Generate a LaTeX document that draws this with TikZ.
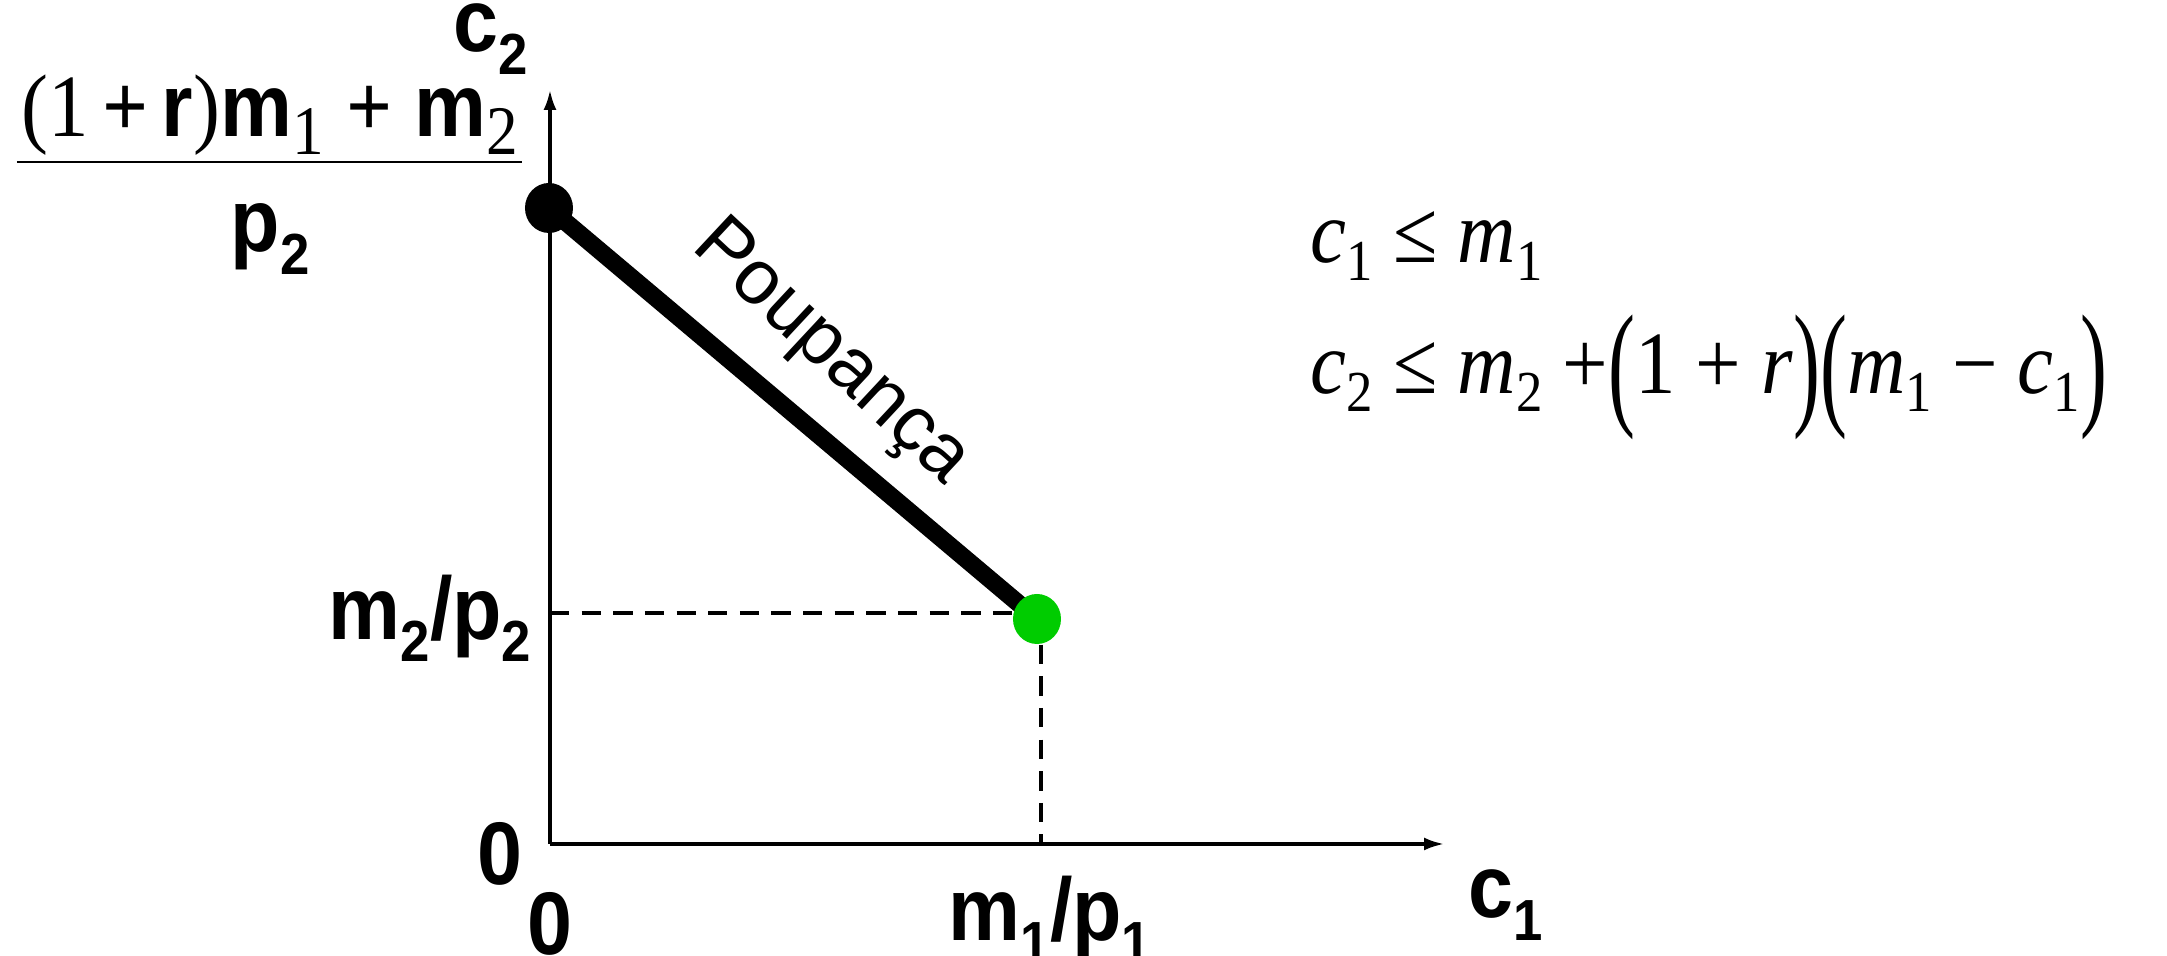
\documentclass[tikz,border=0pt]{standalone}
\usepackage{fontspec}
\usepackage{graphicx}
\setmainfont{Liberation Serif}
\newfontfamily\arl{Liberation Sans}
\usetikzlibrary{arrows.meta,shapes.geometric}
\definecolor{dotgreen}{RGB}{0,204,0}
\newcommand{\sbs}[1]{\raisebox{-0.25em}{\fontsize{15}{15}\selectfont #1}}
\newcommand{\nsb}[1]{\raisebox{-0.2em}{\rmfamily\mdseries\fontsize{18}{18}\selectfont #1}}
\newcommand{\isb}[1]{\raisebox{-0.2em}{\fontsize{15}{15}\selectfont #1}}
\newcommand{\bigpar}[1]{\raisebox{-0.19em}{\scalebox{1}[1.55]{#1}}}

\begin{document}
\begin{tikzpicture}[>={Latex[length=2mm,width=1.3mm]},
  axislbl/.style={font=\arl\bfseries\fontsize{23}{26}\selectfont,inner sep=0pt,transform shape,yscale=1.1},
  ineq/.style={font=\fontsize{23}{25}\selectfont,anchor=base west,inner sep=0pt,transform shape,yscale=1.1},
  dot/.style={ellipse,inner sep=0pt,minimum width=0.48cm,minimum height=0.50cm},
  guide/.style={line width=1.3pt,dash pattern=on 5.5pt off 3.5pt}]
\useasboundingbox (-5.50,-1.12) rectangle (16.17,8.44);
% axes
\coordinate (o) at (0,0);
\coordinate (ytop) at (0,7.54);
\coordinate (xend) at (8.94,0);
\draw[->,line width=0.9pt] (o) -- (ytop);
\draw[->,line width=0.9pt] (o) -- (xend);
% budget line
\coordinate (A) at (-0.01,6.36);
\coordinate (B) at (4.87,2.25);
\draw[line width=5pt] (A) -- (B);
\node[dot,fill=black] (top) at (A) {};
\node[dot,fill=dotgreen] (end) at (B) {};
\coordinate (m2) at (0,2.31);
\coordinate (m1) at (4.91,0);
\draw[guide] (m2) -- (m2 -| end.west);
\draw[guide] (m1 |- end.south) -- (m1);
% labels
\node[axislbl] (c2) at (-0.59,8.05) {c\sbs{2}};
\node[axislbl,anchor=base] (num) at (-2.80,7.07) {{\rmfamily\mdseries(1}\,{\rmfamily +}\,r{\rmfamily\mdseries )}m\nsb{1}\;{\rmfamily +}\;m\nsb{2}};
\coordinate (barL) at (-5.33,6.82);
\coordinate (barR) at (-0.28,6.82);
\draw[line width=0.8pt] (barL) -- (barR);
\node[axislbl,anchor=base] (den) at (-2.80,5.92) {p\sbs{2}};
\node[axislbl,anchor=east] (m2lbl) at (-0.18,2.26) {m\sbs{2}/p\sbs{2}};
\node[axislbl] (zy) at (-0.50,-0.10) {0};
\node[axislbl] (zx) at (0,-0.80) {0};
\node[axislbl] (m1lbl) at (5.00,-0.75) {m\sbs{1}/p\sbs{1}};
\node[axislbl] (c1) at (9.56,-0.61) {c\sbs{1}};
\node[font=\arl\fontsize{22}{25}\selectfont,rotate=-43,inner sep=0pt] (poup) at (2.80,4.90) {Poupança};
% constraints
\node[ineq] (eq1) at (7.60,5.81) {\textit{c}\isb{1} ≤ \textit{m}\isb{1}};
\node[ineq] (eq2) at (7.60,4.50) {\textit{c}\isb{2} ≤ \textit{m}\isb{2} +\bigpar{(}1 + \textit{r}\bigpar{)}\bigpar{(}\textit{m}\isb{1} − \textit{c}\isb{1}\bigpar{)}};
\end{tikzpicture}
\end{document}
